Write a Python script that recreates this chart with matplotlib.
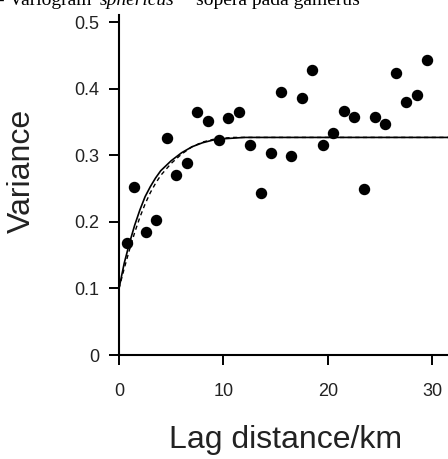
import matplotlib
matplotlib.use('Agg')
import matplotlib.pyplot as plt

plt.rcParams['font.family'] = ['Liberation Sans', 'DejaVu Sans']

# semivariance points (lag km, variance)
lag = [0.8, 1.47, 2.56, 3.52, 4.57, 5.46, 6.54, 7.44, 8.52, 9.58,
       10.47, 11.47, 12.52, 13.6, 14.53, 15.49, 16.48, 17.53, 18.49, 19.51,
       20.53, 21.52, 22.51, 23.5, 24.49, 25.48, 26.53, 27.49, 28.52, 29.5]
variance = [0.168, 0.253, 0.185, 0.203, 0.326, 0.270, 0.289, 0.365, 0.351, 0.323,
            0.356, 0.365, 0.315, 0.244, 0.304, 0.395, 0.299, 0.386, 0.429, 0.315,
            0.333, 0.366, 0.357, 0.250, 0.358, 0.347, 0.424, 0.380, 0.391, 0.444]

# fitted model curves
curve_x = [0, 0.5, 1, 1.5, 2, 2.5, 3, 3.5, 4, 5, 6, 7, 8, 9, 10, 11, 12, 32]
solid_y = [0.100, 0.138, 0.168, 0.195, 0.218, 0.238, 0.253, 0.266, 0.277, 0.292,
           0.304, 0.313, 0.319, 0.323, 0.325, 0.326, 0.327, 0.327]
dashed_y = [0.100, 0.130, 0.158, 0.184, 0.207, 0.227, 0.244, 0.258, 0.270, 0.288,
            0.302, 0.313, 0.320, 0.324, 0.326, 0.327, 0.327, 0.327]

xticks = [0, 10, 20, 30]
yticks = [0, 0.1, 0.2, 0.3, 0.4, 0.5]
ytick_labels = ['0', '0.1', '0.2', '0.3', '0.4', '0.5']

W, H = 448, 459
fig = plt.figure(figsize=(W / 100, H / 100), dpi=100)
ax = fig.add_axes([119 / W, (H - 355) / H, (W - 119) / W, (355 - 15) / H])

ax.plot(curve_x, dashed_y, color='black', lw=1.0, dashes=(3, 2.5))
ax.plot(curve_x, solid_y, color='black', lw=1.2)
ax.scatter(lag, variance, s=52, color='black', zorder=3, clip_on=False)

ax.set_xlim(0, 31.51)
ax.set_ylim(0, 0.511)
ax.set_xticks(xticks)
ax.set_yticks(yticks)
ax.set_yticklabels(ytick_labels)
for s in ['top', 'right']:
    ax.spines[s].set_visible(False)
for s in ['left', 'bottom']:
    ax.spines[s].set_linewidth(1.5)
ax.tick_params(length=7, width=1.4, labelsize=13, colors='black', labelcolor='#222222')
ax.tick_params(axis='x', pad=13)
ax.tick_params(axis='y', pad=7)

fig.text(286 / W, 1 - 440 / H, 'Lag distance/km', fontsize=23, color='#222222',
         ha='center', va='center')
fig.text(22 / W, 1 - 171 / H, 'Variance', fontsize=23, color='#222222',
         rotation=90, ha='center', va='center')

# cropped caption at the very top of the picture
fig.text(-2 / W, 1 - 5 / H, '- Variogram ', fontsize=14, family='Liberation Serif',
         ha='left', va='baseline')
fig.text(100 / W, 1 - 5 / H, 'sphericus', fontsize=14, family='Liberation Serif',
         style='italic', ha='left', va='baseline')
fig.text(196 / W, 1 - 5 / H, 'sopera pada gamerus', fontsize=14, family='Liberation Serif',
         ha='left', va='baseline')

fig.savefig('out.png', dpi=100)
